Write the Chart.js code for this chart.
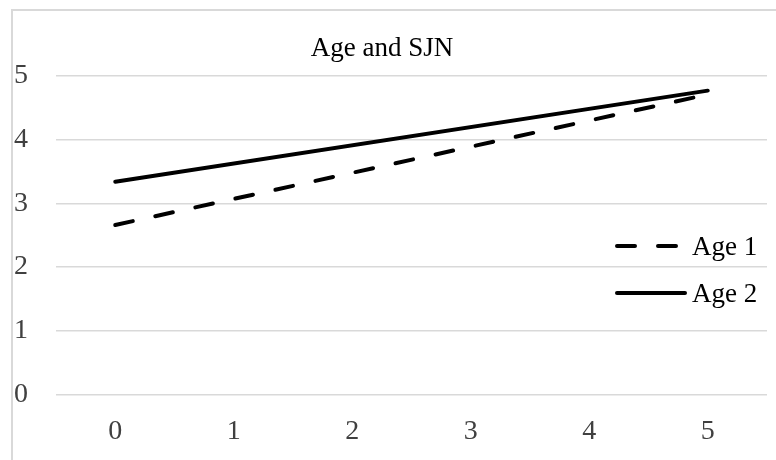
<!DOCTYPE html>
<html>
<head>
<meta charset="utf-8">
<script src="https://cdn.jsdelivr.net/npm/chart.js@4/dist/chart.umd.min.js"></script>
<style>
  html, body { margin: 0; padding: 0; background: #ffffff; }
  #wrap { width: 776px; height: 460px; }
</style>
</head>
<body>
<div id="wrap"><canvas id="c" width="776" height="460"></canvas></div>
<script>
// Category labels along the x axis
const categories = ['0', '1', '2', '3', '4', '5'];
// Line end points (x category, y value)
const age1Values = [ { x: '0', y: 2.66 }, { x: '5', y: 4.71 } ];
const age2Values = [ { x: '0', y: 3.34 }, { x: '5', y: 4.77 } ];
const seriesNames = ['Age 1', 'Age 2'];
const yTicks = [0, 1, 2, 3, 4, 5];
const chartTitle = 'Age and SJN';

const FONT = 'Liberation Serif, Times New Roman, serif';

// Light grey frame on the left and top edges
const framePlugin = {
  id: 'frame',
  beforeDraw(chart) {
    const ctx = chart.ctx;
    ctx.save();
    ctx.strokeStyle = '#d9d9d9';
    ctx.lineWidth = 2;
    ctx.beginPath();
    ctx.moveTo(12, chart.height + 2);
    ctx.lineTo(12, 10);
    ctx.lineTo(chart.width + 2, 10);
    ctx.stroke();
    ctx.restore();
  }
};

// Title, centred over the whole chart frame
const titlePlugin = {
  id: 'frameTitle',
  afterDraw(chart) {
    const ctx = chart.ctx;
    ctx.save();
    ctx.fillStyle = '#000000';
    ctx.font = '27px ' + FONT;
    ctx.textAlign = 'center';
    ctx.textBaseline = 'alphabetic';
    ctx.fillText(chartTitle, 382, 56);
    ctx.restore();
  }
};

// Legend drawn inside the plot area, on the right
const insideLegend = {
  id: 'insideLegend',
  afterDatasetsDraw(chart) {
    const ctx = chart.ctx;
    const x0 = 617, x1 = 685, tx = 692;
    const rows = [246, 293];
    ctx.save();
    chart.data.datasets.forEach((ds, i) => {
      const y = rows[i];
      ctx.strokeStyle = ds.borderColor;
      ctx.lineWidth = ds.borderWidth;
      ctx.lineCap = 'round';
      ctx.setLineDash(ds.borderDash || []);
      ctx.beginPath();
      ctx.moveTo(x0, y);
      ctx.lineTo(x1, y);
      ctx.stroke();
      ctx.setLineDash([]);
      ctx.fillStyle = '#000000';
      ctx.font = '27px ' + FONT;
      ctx.textAlign = 'left';
      ctx.textBaseline = 'middle';
      ctx.fillText(ds.label, tx, y + 2);
    });
    ctx.restore();
  }
};

new Chart(document.getElementById('c'), {
  type: 'line',
  data: {
    labels: categories,
    datasets: [
      {
        label: seriesNames[0],
        data: age1Values,
        borderColor: '#000000',
        borderWidth: 4,
        borderDash: [18, 23],
        borderCapStyle: 'round',
        pointRadius: 0,
        fill: false,
        tension: 0
      },
      {
        label: seriesNames[1],
        data: age2Values,
        borderColor: '#000000',
        borderWidth: 4,
        borderCapStyle: 'round',
        pointRadius: 0,
        fill: false,
        tension: 0
      }
    ]
  },
  options: {
    responsive: false,
    animation: false,
    devicePixelRatio: 1,
    layout: { padding: { left: 14, right: 9, top: 76, bottom: -8 } },
    plugins: {
      legend: { display: false },
      tooltip: { enabled: false },
      title: { display: false }
    },
    scales: {
      x: {
        type: 'category',
        offset: true,
        grid: { display: false, drawTicks: false },
        border: { display: false },
        ticks: {
          color: '#404040',
          font: { family: FONT, size: 28 },
          padding: 20,
          maxRotation: 0
        }
      },
      y: {
        min: 0,
        max: 5,
        afterBuildTicks(scale) { scale.ticks = yTicks.map(v => ({ value: v })); },
        afterFit(scale) { scale.width = 42; },
        grid: { color: '#d9d9d9', lineWidth: 1.5, drawTicks: false },
        border: { display: false },
        ticks: {
          color: '#404040',
          font: { family: FONT, size: 28 },
          crossAlign: 'far',
          padding: 0
        }
      }
    }
  },
  plugins: [framePlugin, titlePlugin, insideLegend]
});
</script>
</body>
</html>
